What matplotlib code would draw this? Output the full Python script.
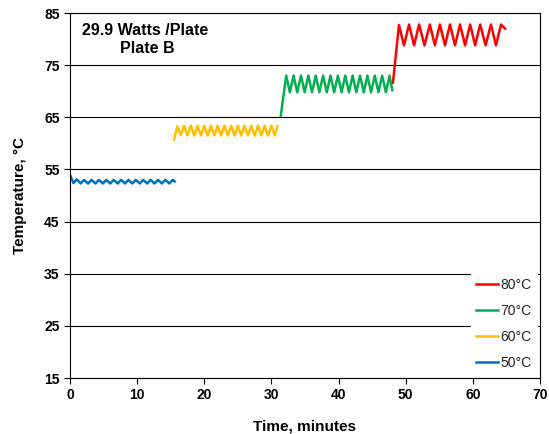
import matplotlib.pyplot as plt

plt.rcParams['font.family'] = ['Liberation Sans', 'DejaVu Sans']

# peaks and troughs of each run
t_50 = [0.0, 0.5, 1.0, 1.6, 2.1, 2.7, 3.2, 3.8, 4.3, 4.9, 5.4, 6.0, 6.5, 7.1, 7.6,
        8.2, 8.7, 9.3, 9.8, 10.4, 10.9, 11.5, 12.0, 12.6, 13.1, 13.7, 14.2, 14.8,
        15.3, 15.6]
y_50 = [54.0, 52.4, 53.1, 52.3, 53.0, 52.3, 53.0, 52.3, 53.0, 52.3, 53.0, 52.3,
        53.0, 52.3, 53.0, 52.3, 53.0, 52.3, 53.0, 52.3, 53.0, 52.3, 53.0, 52.3,
        53.0, 52.3, 53.0, 52.3, 53.0, 52.7]

t_60 = [15.5, 16.0, 16.5, 17.0, 17.5, 18.0, 18.5, 19.0, 19.5, 20.0, 20.5, 21.0,
        21.5, 22.0, 22.5, 23.0, 23.5, 24.0, 24.5, 25.0, 25.5, 26.0, 26.5, 27.0,
        27.5, 28.0, 28.5, 29.0, 29.5, 30.0, 30.5, 30.9]
y_60 = [60.7, 63.3, 61.6, 63.4, 61.5, 63.4, 61.5, 63.4, 61.5, 63.4, 61.5, 63.4,
        61.5, 63.4, 61.5, 63.4, 61.5, 63.4, 61.5, 63.4, 61.5, 63.4, 61.5, 63.4,
        61.5, 63.4, 61.5, 63.4, 61.5, 63.4, 61.5, 63.3]

t_70 = [31.4, 32.2, 32.75, 33.3, 33.85, 34.4, 34.95, 35.5, 36.05, 36.6, 37.15,
        37.7, 38.25, 38.8, 39.35, 39.9, 40.45, 41.0, 41.55, 42.1, 42.65, 43.2,
        43.75, 44.3, 44.85, 45.4, 45.95, 46.5, 47.05, 47.6, 48.0]
y_70 = [65.3, 73.0, 69.8, 73.0, 69.8, 73.0, 69.8, 73.0, 69.8, 73.0, 69.8, 73.0,
        69.8, 73.0, 69.8, 73.0, 69.8, 73.0, 69.8, 73.0, 69.8, 73.0, 69.8, 73.0,
        69.8, 73.0, 69.8, 73.0, 69.8, 73.0, 70.2]

t_80 = [48.1, 49.0, 49.75, 50.5, 51.25, 52.0, 52.8, 53.6, 54.35, 55.1, 55.85,
        56.6, 57.35, 58.1, 58.85, 59.6, 60.35, 61.1, 61.9, 62.7, 63.45, 64.2, 64.8]
y_80 = [71.6, 82.7, 78.8, 82.8, 78.8, 82.8, 78.8, 82.8, 78.8, 82.8, 78.8, 82.8,
        78.8, 82.8, 78.8, 82.8, 78.8, 82.8, 78.8, 82.8, 78.8, 82.8, 82.0]

x_ticks = [0, 10, 20, 30, 40, 50, 60, 70]
y_ticks = [15, 25, 35, 45, 55, 65, 75, 85]

fig = plt.figure(figsize=(5.49, 4.34), dpi=100)
ax = fig.add_axes([0.1275, 0.129, 0.856, 0.841])

lw = 1.8
ax.plot(t_80, y_80, color='#FF0000', lw=lw, label='80°C', solid_joinstyle='round')
ax.plot(t_70, y_70, color='#00B050', lw=lw, label='70°C', solid_joinstyle='round')
ax.plot(t_60, y_60, color='#FFC000', lw=lw, label='60°C', solid_joinstyle='round')
ax.plot(t_50, y_50, color='#0070C0', lw=lw, label='50°C', solid_joinstyle='round')

ax.set_xlim(0, 70)
ax.set_ylim(15, 85)
ax.set_xticks(x_ticks)
ax.set_yticks(y_ticks)
ax.yaxis.grid(True, color='black', lw=0.8)
ax.set_axisbelow(True)
ax.tick_params(direction='out', length=4, labelsize=10, width=0.8)
for lab in ax.get_xticklabels() + ax.get_yticklabels():
    lab.set_fontweight('bold')
for s in ax.spines.values():
    s.set_color('black')
    s.set_linewidth(0.8)

ax.set_xlabel('Time, minutes', fontsize=11, fontweight='bold', labelpad=12)
ax.set_ylabel('Temperature, °C', fontsize=11, fontweight='bold', labelpad=12)

ax.text(0.16, 0.953, '29.9 Watts /Plate', transform=ax.transAxes,
        fontsize=11.5, fontweight='bold', ha='center', va='center')
ax.text(0.165, 0.903, 'Plate B', transform=ax.transAxes,
        fontsize=11.5, fontweight='bold', ha='center', va='center')

leg = ax.legend(loc='lower right', frameon=True, fontsize=10, handlelength=1.6,
                labelspacing=0.85, handletextpad=0.15, borderaxespad=0.2)
leg.get_frame().set_edgecolor('white')
leg.get_frame().set_facecolor('white')
leg.get_frame().set_alpha(1.0)
for txt in leg.get_texts():
    txt.set_color('#222222')

fig.savefig('out.png', dpi=100)
